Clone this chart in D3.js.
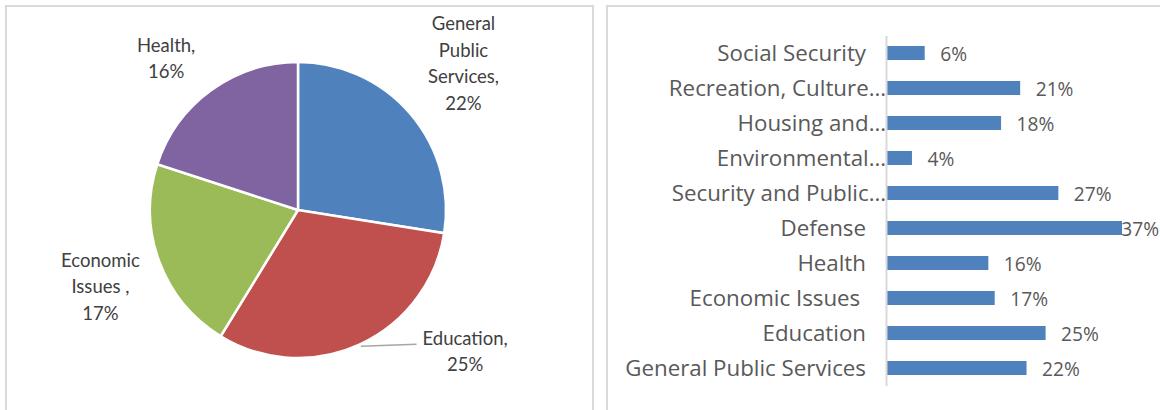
<!DOCTYPE html>
<html>
<head>
<meta charset="utf-8">
<script src="https://cdn.jsdelivr.net/npm/d3@7"></script>
<style>
  html, body { margin: 0; padding: 0; background: #fff; }
  svg { display: block; }
</style>
</head>
<body>
<svg id="chart" width="1160" height="410"></svg>
<script>
// Spending shares by function
const pieCategories = ["General Public Services", "Education", "Economic Issues", "Health"];
const pieLabelLines = [["General", "Public", "Services,"], ["Education,"], ["Economic", "Issues ,"], ["Health,"]];
const pieValues = [22, 25, 17, 16];
const pieColors = ["#4F81BD", "#C0504D", "#9BBB59", "#8064A2"];

const barCategories = [
  "Social Security",
  "Recreation, Culture…",
  "Housing and…",
  "Environmental…",
  "Security and Public…",
  "Defense",
  "Health",
  "Economic Issues ",
  "Education",
  "General Public Services"
];
const barValues = [6, 21, 18, 4, 27, 37, 16, 17, 25, 22];

const svg = d3.select("#chart");
const W = 1160, H = 410;

// Panel frames
svg.append("rect").attr("x", 6).attr("y", 6).attr("width", 587).attr("height", 420)
  .attr("fill", "none").attr("stroke", "#D9D9D9").attr("stroke-width", 2);
svg.append("rect").attr("x", 607).attr("y", 6).attr("width", 600).attr("height", 420)
  .attr("fill", "none").attr("stroke", "#D9D9D9").attr("stroke-width", 2);

// ---- Pie ----
const cx = 298, cy = 210, R = 148;
const pie = d3.pie().sort(null).value(d => d)(pieValues);
const arc = d3.arc().innerRadius(0).outerRadius(R);
const pg = svg.append("g").attr("transform", `translate(${cx},${cy})`);

pg.selectAll("path.slice").data(pie).join("path")
  .attr("class", "slice")
  .attr("d", arc)
  .attr("fill", (d, i) => pieColors[i])
  .attr("stroke", "#fff")
  .attr("stroke-width", 2.5)
  .attr("stroke-linejoin", "miter");

// label placement: angular shift (deg) from slice mid-angle and distance from centre
const labelPlacement = [
  { shift: -1, dist: 221 },
  { shift: -25, dist: 219 },
  { shift: -1, dist: 212 },
  { shift: -5, dist: 201 }
];
const lineH = 26.5;
const toRad = Math.PI / 180;

pie.forEach((d, i) => {
  const mid = (d.startAngle + d.endAngle) / 2;
  const a = mid + labelPlacement[i].shift * toRad;
  const lx = Math.sin(a) * labelPlacement[i].dist;
  const ly = -Math.cos(a) * labelPlacement[i].dist;
  const lines = pieLabelLines[i].concat([pieValues[i] + "%"]);
  const t = pg.append("text")
    .attr("text-anchor", "middle")
    .attr("font-family", "Lato, 'Open Sans', sans-serif")
    .attr("font-size", 18.5)
    .attr("fill", "#404040")
    .style("white-space", "pre");
  const y0 = ly - (lines.length - 1) * lineH / 2;
  lines.forEach((s, k) => {
    t.append("tspan").attr("x", lx).attr("y", y0 + k * lineH).attr("dy", "0.36em").text(s);
  });
  // leader line when the label is pulled away from its slice
  if (Math.abs(labelPlacement[i].shift) > 10) {
    const ex = Math.sin(mid) * (R + 2), ey = -Math.cos(mid) * (R + 2);
    const bb = t.node().getBBox();
    pg.append("polyline")
      .attr("points", `${ex},${ey} ${bb.x - 6},${ey - 2}`)
      .attr("fill", "none")
      .attr("stroke", "#A6A6A6")
      .attr("stroke-width", 1.5);
  }
});

// ---- Bars ----
const x0 = 886;
const x = d3.scaleLinear().domain([0, 37]).range([0, 235.5]);
const y = d3.scaleBand().domain(barCategories).range([35.5, 385.5])
  .paddingInner(0.6).paddingOuter(0.3);

const bg = svg.append("g").attr("transform", `translate(${x0},0)`);
const barFont = "'Open Sans', Lato, sans-serif";

// size the category font so the longest label spans 241px
const probe = svg.append("text").attr("font-family", barFont).attr("font-size", 20)
  .text(barCategories[barCategories.length - 1]);
const barFontSize = 20 * 241 / probe.node().getComputedTextLength();
probe.remove();
const valueFontSize = barFontSize * 0.86;

bg.selectAll("rect.bar").data(barValues).join("rect")
  .attr("class", "bar")
  .attr("x", 0.5)
  .attr("y", (d, i) => y(barCategories[i]))
  .attr("width", d => x(d))
  .attr("height", y.bandwidth())
  .attr("fill", "#4F81BD");

const axis = bg.append("g")
  .call(d3.axisLeft(y).tickSize(0).tickSizeOuter(0).tickPadding(20));
axis.select(".domain").attr("stroke", "#D9D9D9").attr("stroke-width", 2);
axis.selectAll(".tick text")
  .attr("font-family", barFont)
  .attr("font-size", barFontSize)
  .attr("fill", "#595959")
  .style("white-space", "pre")
  .attr("dy", "0.36em")
  .attr("x", d => d.endsWith("…") ? 0 : -20);

// value labels; one that would run off the panel is tucked against the bar end
bg.selectAll("text.val").data(barValues).join("text")
  .attr("class", "val")
  .attr("font-family", barFont)
  .attr("font-size", valueFontSize)
  .attr("fill", "#595959")
  .attr("y", (d, i) => y(barCategories[i]) + y.bandwidth() / 2)
  .attr("dy", "0.42em")
  .text(d => d + "%")
  .attr("x", function (d) {
    const w = this.getComputedTextLength();
    const px = x(d) + 16;
    return (x0 + px + w > W) ? Math.min(x(d) + 0.5, W - x0 - w - 1) : px;
  });
</script>
</body>
</html>
